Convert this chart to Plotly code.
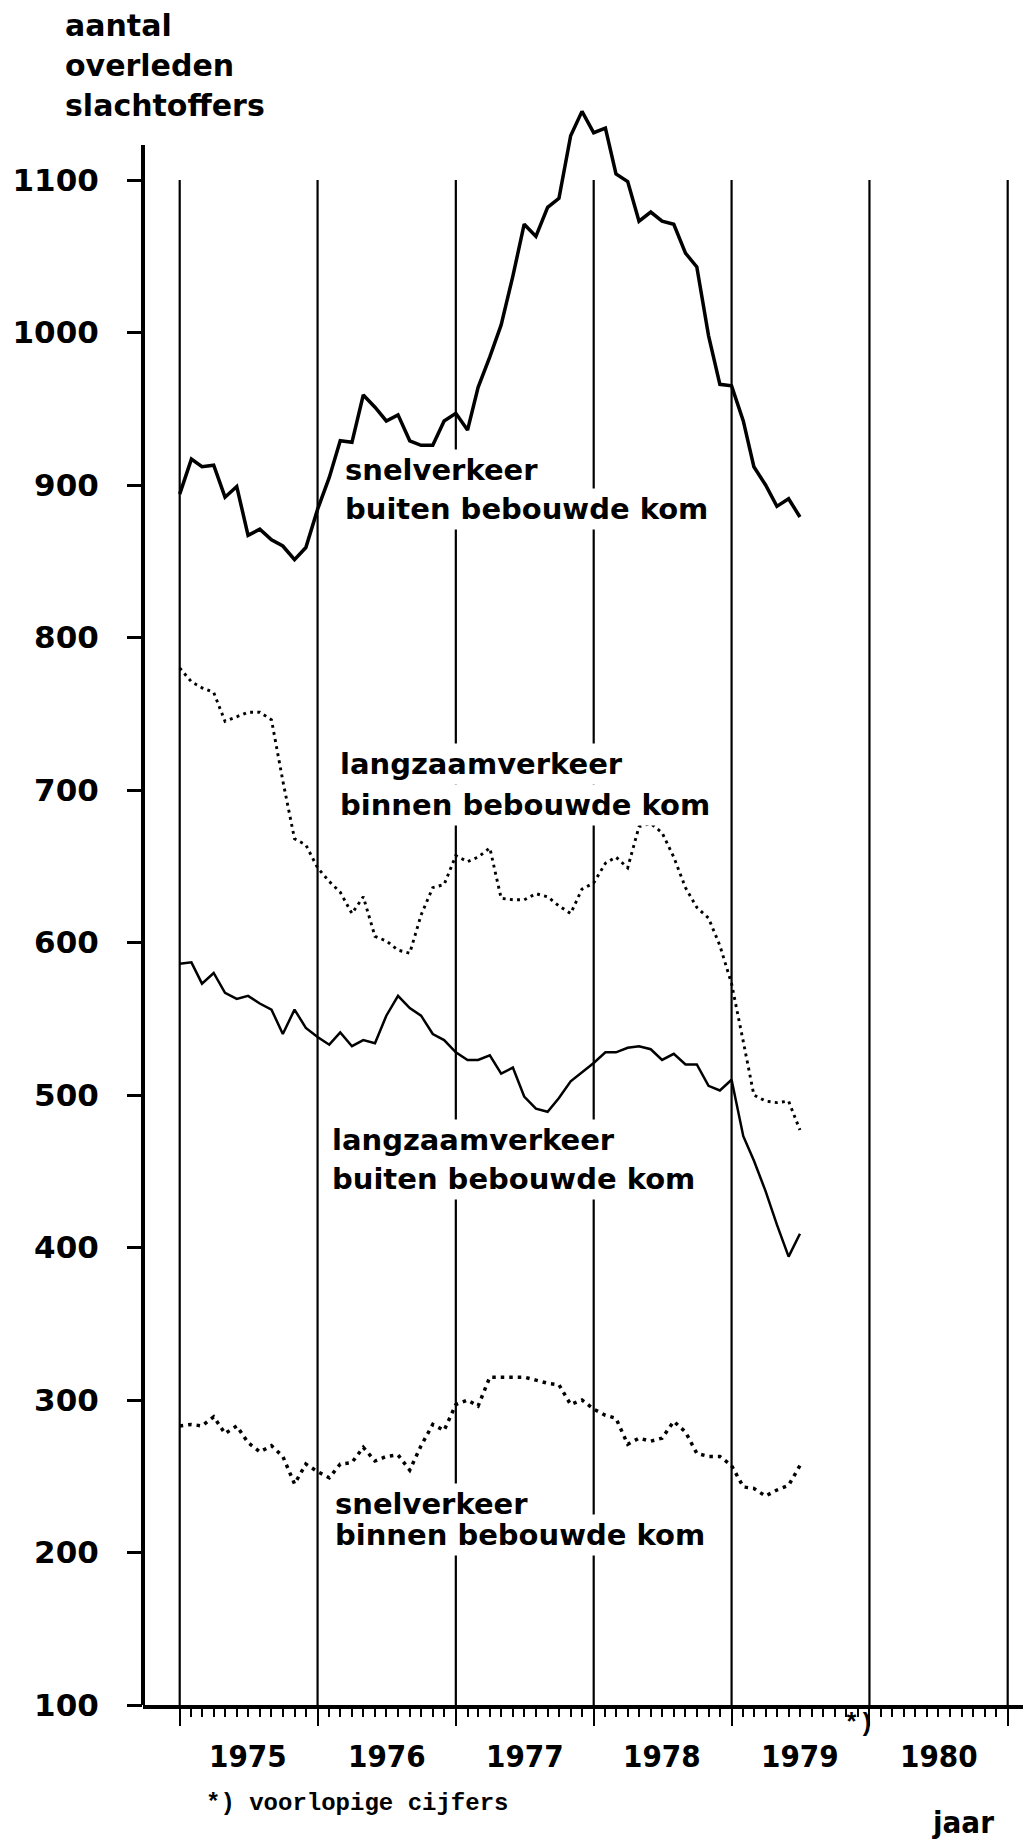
import pandas as pd
import plotly.graph_objects as go

# ---------------- data (12-month moving totals) ----------------
months = pd.date_range("1975-01-01", "1979-07-01", freq="MS")

snel_buiten = [894, 917, 912, 913, 892, 899, 867, 871, 864, 860, 851, 859,
               884, 905, 929, 928, 959, 951, 942, 946, 929, 926, 926, 942,
               947, 936, 964, 984, 1005, 1037, 1071, 1063, 1082, 1088, 1129, 1145,
               1131, 1134, 1104, 1099, 1073, 1079, 1073, 1071, 1052, 1043, 998, 966,
               965, 942, 912, 900, 886, 891, 879]

langzaam_binnen = [780, 771, 767, 764, 745, 748, 751, 751, 746, 706, 668, 664,
                   649, 640, 633, 619, 630, 604, 601, 595, 593, 618, 636, 638,
                   657, 653, 656, 662, 629, 628, 628, 632, 630, 624, 619, 635,
                   639, 652, 656, 649, 676, 678, 672, 656, 636, 623, 616, 598,
                   573, 535, 500, 496, 495, 496, 477]

langzaam_buiten = [586, 587, 573, 580, 567, 563, 565, 560, 556, 540, 556, 544,
                   538, 533, 541, 532, 536, 534, 552, 565, 557, 552, 540, 536,
                   528, 523, 523, 526, 514, 518, 499, 491, 489, 498, 509, 515,
                   521, 528, 528, 531, 532, 530, 523, 527, 520, 520, 506, 503,
                   510, 473, 457, 437, 415, 394, 409]

snel_binnen = [283, 284, 283, 289, 278, 283, 272, 266, 270, 263, 245, 258,
               253, 249, 258, 259, 269, 260, 263, 264, 254, 270, 284, 280,
               297, 300, 296, 315, 315, 315, 315, 313, 311, 310, 297, 300,
               294, 290, 288, 271, 275, 273, 275, 286, 279, 265, 263, 263,
               257, 243, 242, 237, 241, 244, 257]

y_ticks = list(range(100, 1101, 100))
y_tick_text = [str(v) for v in y_ticks]
year_labels = ["1975", "1976", "1977", "1978", "1979", "1980"]
year_bounds = [f"{y}-01-01" for y in range(1975, 1982)]
minor_ticks = [d.strftime("%Y-%m-%d") for d in pd.date_range("1975-01-01", "1981-01-01", freq="MS")
               if d.month != 1]

# ---------------- geometry ----------------
W, H = 1031, 1840
PL, PR, PT, PB = 135, 1031, 60, 1697      # plot area (top extended so the peak is not clipped)
AXIS_TOP_PX = 137                          # where the drawn y-axis line ends
PX_PER_UNIT = 1.525
X0, X6 = pd.Timestamp("1975-01-01"), pd.Timestamp("1981-01-01")
PX_1975, PX_1981 = 171.7, 999.7
td_per_px = (X6 - X0) / (PX_1981 - PX_1975)


def xd(px):
    return (X0 + td_per_px * (px - PX_1975)).strftime("%Y-%m-%d %H:%M")


def yv(py):
    return 100 + (PB - py) / PX_PER_UNIT


def xp(px):
    return (px - PL) / (PR - PL)


def yp(py):
    return (PB - py) / (PB - PT)


x_range = [xd(PL), xd(PR)]
y_range = [100, yv(PT)]

fig = go.Figure()

fig.add_trace(go.Scatter(x=months, y=snel_buiten, mode="lines",
                         line=dict(color="black", width=3.5), showlegend=False))
fig.add_trace(go.Scatter(x=months, y=langzaam_binnen, mode="lines",
                         line=dict(color="black", width=2.9, dash="2.9px,4.3px"), showlegend=False))
fig.add_trace(go.Scatter(x=months, y=langzaam_buiten, mode="lines",
                         line=dict(color="black", width=2.5), showlegend=False))
fig.add_trace(go.Scatter(x=months, y=snel_binnen, mode="lines",
                         line=dict(color="black", width=3.5, dash="3.5px,5px"), showlegend=False))

shapes = []
for yb in year_bounds:
    shapes.append(dict(type="line", xref="x", yref="y", x0=yb, x1=yb, y0=100, y1=1100,
                       line=dict(color="black", width=2.2), layer="below"))
# y-axis line (stops a little above 1100, as in the original)
shapes.append(dict(type="line", xref="paper", yref="y", x0=0, x1=0, y0=100, y1=yv(AXIS_TOP_PX),
                   line=dict(color="black", width=4), layer="above"))

label_font = dict(family="DejaVu Sans", size=29, color="black", weight="bold")
annotations = []


def add_label(text, left_px, center_py, font=label_font, bg="white"):
    annotations.append(dict(text=text, x=xd(left_px - 4), y=yv(center_py), xref="x", yref="y",
                            xanchor="left", yanchor="middle", showarrow=False, font=font,
                            bgcolor=bg, borderpad=3))


add_label("snelverkeer", 337, 462)
add_label("buiten bebouwde kom", 337, 501)
add_label("langzaamverkeer", 332, 756)
add_label("binnen bebouwde kom", 332, 797)
add_label("langzaamverkeer", 324, 1132)
add_label("buiten bebouwde kom", 324, 1171)
add_label("snelverkeer", 327, 1496)
add_label("binnen bebouwde kom", 327, 1527)

# axis title (top left)
title_font = dict(family="DejaVu Sans", size=30, color="black", weight="bold")
for txt, cy in zip(["aantal", "overleden", "slachtoffers"], [18, 57, 97]):
    annotations.append(dict(text=txt, x=xp(55), y=yp(cy), xref="paper", yref="paper",
                            xanchor="left", yanchor="middle", showarrow=False, font=title_font))

# year labels, centred in each year
year_font = dict(family="DejaVu Sans Condensed, Liberation Sans", size=31, color="black", weight="bold")
for lab in year_labels:
    annotations.append(dict(text=lab, x=f"{lab}-07-02", y=yp(1748), xref="x", yref="paper",
                            xanchor="center", yanchor="middle", showarrow=False, font=year_font))

annotations.append(dict(text="*)", x=xd(851), y=yp(1717), xref="x", yref="paper",
                        xanchor="center", yanchor="middle", showarrow=False,
                        font=dict(family="Liberation Mono", size=25, color="black", weight="bold")))
annotations.append(dict(text="*) voorlopige cijfers", x=xp(196), y=yp(1795), xref="paper", yref="paper",
                        xanchor="left", yanchor="middle", showarrow=False,
                        font=dict(family="Liberation Mono", size=24, color="black", weight="bold")))
annotations.append(dict(text="jaar", x=xp(922), y=yp(1814), xref="paper", yref="paper",
                        xanchor="left", yanchor="middle", showarrow=False, font=year_font))

fig.update_layout(
    width=W, height=H,
    margin=dict(l=PL, r=W - PR, t=PT, b=H - PB, pad=0),
    paper_bgcolor="white", plot_bgcolor="white",
    shapes=shapes, annotations=annotations,
    showlegend=False,
)

fig.update_xaxes(type="date", range=x_range, showgrid=False, zeroline=False,
                 showline=True, linecolor="black", linewidth=4,
                 tickmode="array", tickvals=year_bounds, ticktext=[""] * len(year_bounds),
                 ticks="outside", ticklen=17, tickwidth=2.2, tickcolor="black",
                 minor=dict(tickmode="array", tickvals=minor_ticks, ticks="outside",
                            ticklen=8, tickwidth=1.5, tickcolor="black", showgrid=False))

fig.update_yaxes(range=y_range, showgrid=False, zeroline=False, showline=False,
                 tickmode="array", tickvals=y_ticks, ticktext=y_tick_text,
                 ticks="outside", ticklen=15, tickwidth=3, tickcolor="black",
                 ticklabelstandoff=22,
                 tickfont=dict(family="DejaVu Sans", size=31, color="black", weight="bold"))

fig.write_html("out.html")
